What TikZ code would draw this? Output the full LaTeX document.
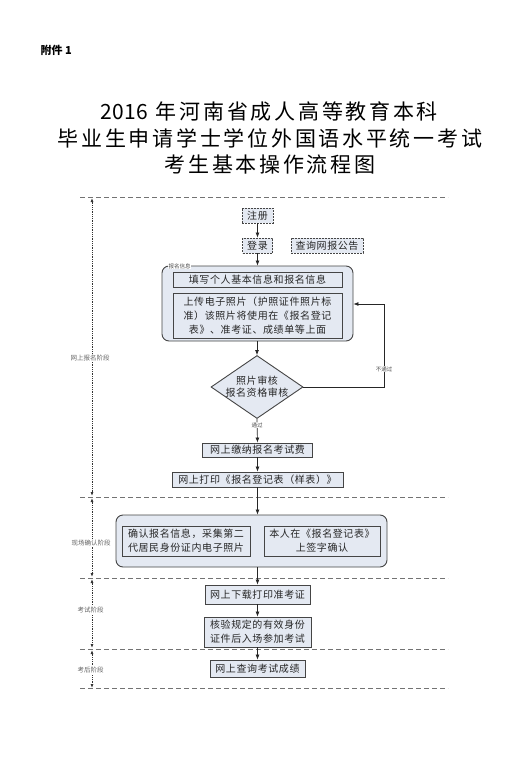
\documentclass[tikz,border=0pt]{standalone}
\usepackage{fontspec}
\setmainfont{Liberation Sans}
\newfontfamily\cjk{Noto Sans CJK SC}
\newfontfamily\cjkbox[LetterSpace=6]{Noto Sans CJK SC}
\newfontfamily\cjktitle[LetterSpace=13]{Noto Sans CJK SC}
\newfontfamily\cjkdigits[LetterSpace=3]{Noto Sans CJK SC}
\usetikzlibrary{shapes.geometric,arrows.meta}
\definecolor{boxfill}{HTML}{E4E9F2}
\definecolor{boxline}{HTML}{454545}
\definecolor{txt}{HTML}{262626}
\tikzset{
  flowbox/.style={draw=boxline, line width=0.9pt, fill=boxfill, inner sep=0pt, align=center,
    text=txt, font=\cjkbox\fontsize{10}{14}\selectfont},
  dashbox/.style={flowbox, dash pattern=on 2pt off 1pt},
  groupbox/.style={draw=boxline, line width=0.9pt, fill=boxfill, rounded corners=7pt, inner sep=0pt},
  decision/.style={diamond, draw=boxline, line width=0.9pt, fill=boxfill, inner sep=0pt},
  flowarrow/.style={draw=black!85, line width=0.7pt, -{Latex[length=5pt,width=4pt]}},
  phaseline/.style={draw=black!80, line width=0.8pt, densely dotted,
    {Latex[length=4pt,width=3pt]}-{Latex[length=4pt,width=3pt]}},
  sepline/.style={draw=black!55, line width=0.8pt, dash pattern=on 5pt off 3pt},
  phaselabel/.style={font=\cjk\fontsize{6.5}{7}\selectfont, text=black!60, fill=white, inner sep=0.5pt},
  smalllabel/.style={font=\cjk\fontsize{5.5}{6}\selectfont, text=black!70, fill=white, inner sep=0.5pt},
}
\begin{document}
\begin{tikzpicture}[x=1pt,y=-1pt]
\useasboundingbox[fill=white] (0,0) rectangle (528,757);

% header and title
\node[anchor=west, font=\cjk\bfseries\fontsize{11}{12}\selectfont] (annex) at (37,50) {附件 1};
\node[font=\cjktitle\fontsize{21}{22}\selectfont] (t1) at (269,112) {{\cjkdigits 2016} 年河南省成人高等教育本科};
\node[font=\cjktitle\fontsize{21}{22}\selectfont] (t2) at (270,138) {毕业生申请学士学位外国语水平统一考试};
\node[font=\cjktitle\fontsize{21}{22}\selectfont] (t3) at (270,165) {考生基本操作流程图};

% phase separators
\coordinate (s0l) at (80,197); \coordinate (s0r) at (448,197);
\coordinate (s1l) at (80,497); \coordinate (s1r) at (448,497);
\coordinate (s2l) at (80,578); \coordinate (s2r) at (448,578);
\coordinate (s3l) at (80,649); \coordinate (s3r) at (448,649);
\coordinate (s4l) at (80,688); \coordinate (s4r) at (448,688);
\foreach \i in {0,...,4} { \draw[sepline] (s\i l) -- (s\i r); }

% phase axis
\coordinate (p0) at (92,198);
\coordinate (p1a) at (92,496); \coordinate (p1b) at (92,498);
\coordinate (p2a) at (92,577); \coordinate (p2b) at (92,579);
\coordinate (p3a) at (92,648); \coordinate (p3b) at (92,650);
\coordinate (p4) at (92,688);
\draw[phaseline] (p0) -- (p1a);
\draw[phaseline] (p1b) -- (p2a);
\draw[phaseline] (p2b) -- (p3a);
\draw[phaseline] (p3b) -- (p4);
\node[phaselabel] (ph1) at (90,358) {网上报名阶段};
\node[phaselabel] (ph2) at (91,543) {现场确认阶段};
\node[phaselabel] (ph3) at (90.5,610) {考试阶段};
\node[phaselabel] (ph4) at (90.5,670) {考后阶段};

% online registration
\node[dashbox, minimum width=31, minimum height=15] (reg) at (257.5,215.5) {注册};
\node[dashbox, minimum width=30, minimum height=15] (login) at (257.5,245.5) {登录};
\node[dashbox, minimum width=72, minimum height=15] (query) at (327,245.5) {查询网报公告};

\node[groupbox, minimum width=191, minimum height=75] (grp1) at (257.5,303.5) {};
\node[smalllabel, anchor=west] (grp1lbl) at (168,266) {报名信息};
\node[flowbox, minimum width=169, minimum height=15] (fill) at (257.5,279.5) {填写个人基本信息和报名信息};
\node[flowbox, minimum width=169, minimum height=45] (upload) at (257.5,315.5)
  {上传电子照片（护照证件照片标\\准）该照片将使用在《报名登记\\表》、准考证、成绩单等上面};

\node[decision, minimum width=92, minimum height=63] (check) at (257,387) {};
\node[align=center, text=txt, font=\cjkbox\fontsize{10}{12.5}\selectfont, inner sep=0pt] (checktxt) at (257,386.5) {照片审核\\报名资格审核};

\node[flowbox, minimum width=110, minimum height=14] (fee) at (257.5,450) {网上缴纳报名考试费};
\node[flowbox, minimum width=171, minimum height=15] (print) at (257.5,479.5) {网上打印《报名登记表（样表）》};

% on-site confirmation
\node[groupbox, minimum width=271, minimum height=52] (grp2) at (251.5,541) {};
\node[flowbox, minimum width=128, minimum height=30] (confirm) at (186,541) {确认报名信息，采集第二\\代居民身份证内电子照片};
\node[flowbox, minimum width=116, minimum height=30] (sign) at (322,541) {本人在《报名登记表》\\上签字确认};

% exam
\node[flowbox, minimum width=105, minimum height=19] (ticket) at (257.5,594.5) {网上下载打印准考证};
\node[flowbox, minimum width=107, minimum height=30] (verify) at (257.5,632) {核验规定的有效身份\\证件后入场参加考试};
\node[flowbox, minimum width=95, minimum height=17] (score) at (257.5,668.5) {网上查询考试成绩};

% connectors
\draw[flowarrow] (reg) -- (login);
\draw[flowarrow] (login) -- (login.south |- grp1.north);
\draw[flowarrow] (check.north |- grp1.south) -- (check.north);
\coordinate (turn) at (384,304);
\draw[flowarrow] (check.east) -| (turn) -- (grp1.east |- turn);
\node[smalllabel] (fail) at (384,369) {不通过};
\draw[flowarrow] (check.south) -- (fee.north);
\node[smalllabel] (pass) at (257,425) {通过};
\draw[flowarrow] (fee) -- (print);
\draw[flowarrow] (print.south) -- (print.south |- grp2.north);
\draw[flowarrow] (ticket.north |- grp2.south) -- (ticket.north);
\draw[flowarrow] (ticket) -- (verify);
\draw[flowarrow] (verify) -- (score);
\end{tikzpicture}
\end{document}
